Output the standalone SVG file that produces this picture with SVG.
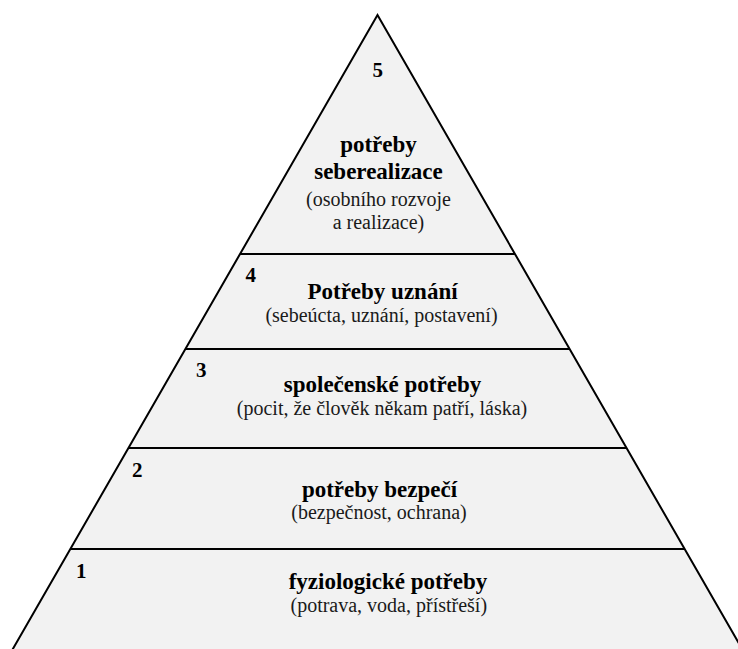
<svg xmlns="http://www.w3.org/2000/svg" width="738" height="649" viewBox="0 0 738 649">
<style>
.t{font-family:"Liberation Serif","Times New Roman",serif;font-weight:bold;font-size:23px;fill:#000;text-anchor:middle}
.s{font-family:"Liberation Serif","Times New Roman",serif;font-size:20px;fill:#1a1a1a;text-anchor:middle}
.n{font-family:"Liberation Serif","Times New Roman",serif;font-weight:bold;font-size:21px;fill:#000}
.ln{stroke:#000;stroke-width:2;fill:none}
</style>
<rect width="738" height="649" fill="#fff"/>
<g id="pyramid">
<polygon points="377.5,15 771.5,700 -16.5,700" fill="#f2f2f2" stroke="#000" stroke-width="2" stroke-linejoin="miter"/>
</g>
<g id="connectors">
<line class="ln" x1="240.1" y1="254" x2="514.9" y2="254"/>
<line class="ln" x1="185.5" y1="349" x2="569.5" y2="349"/>
<line class="ln" x1="128.5" y1="448" x2="626.5" y2="448"/>
<line class="ln" x1="70.5" y1="549" x2="684.5" y2="549"/>
</g>
<g id="level5">
<text class="n" x="377.7" y="77" text-anchor="middle">5</text>
<text class="t" x="378.5" y="152">potřeby</text>
<text class="t" x="378.5" y="179">seberealizace</text>
<text class="s" x="378.5" y="206">(osobního rozvoje</text>
<text class="s" x="378.5" y="228.5">a realizace)</text>
</g>
<g id="level4">
<text class="n" x="245.5" y="281.5">4</text>
<text class="t" x="382.5" y="298.5">Potřeby uznání</text>
<text class="s" x="381.5" y="321.5">(sebeúcta, uznání, postavení)</text>
</g>
<g id="level3">
<text class="n" x="196" y="377">3</text>
<text class="t" x="382.5" y="391.5">společenské potřeby</text>
<text class="s" x="382" y="415">(pocit, že člověk někam patří, láska)</text>
</g>
<g id="level2">
<text class="n" x="132" y="477">2</text>
<text class="t" x="379.5" y="496.5">potřeby bezpečí</text>
<text class="s" x="379" y="518.5">(bezpečnost, ochrana)</text>
</g>
<g id="level1">
<text class="n" x="76" y="577.5">1</text>
<text class="t" x="388" y="588.5">fyziologické potřeby</text>
<text class="s" x="388.8" y="611.5">(potrava, voda, přístřeší)</text>
</g>
</svg>
